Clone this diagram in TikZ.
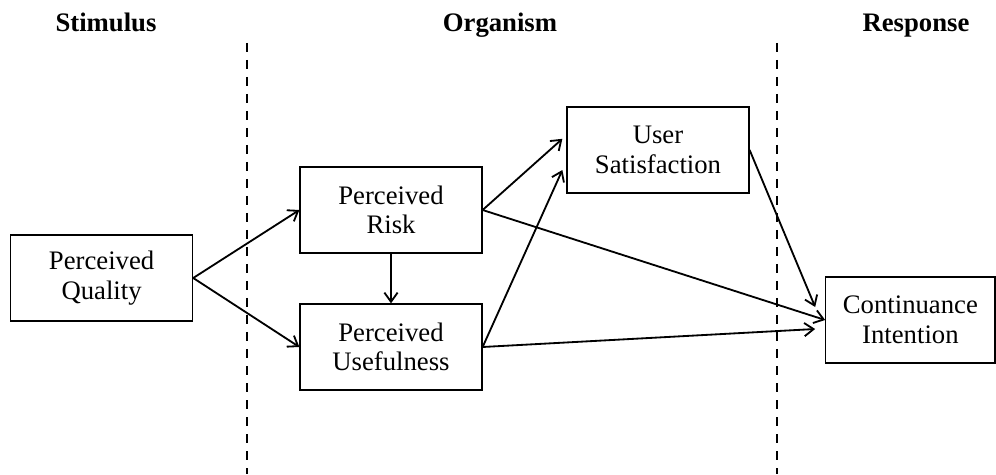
\documentclass[tikz,border=0pt]{standalone}
\usepackage{fontspec}
\setmainfont{Liberation Serif}
\usepackage{tikz}
\usetikzlibrary{arrows.meta, positioning}

\begin{document}
\begin{tikzpicture}[
    factor/.style={draw, line width=0.9pt, minimum width=4.55cm, minimum height=2.15cm, align=center, font=\fontsize{19}{21}\selectfont},
    heading/.style={anchor=base, font=\fontsize{19}{21}\selectfont\bfseries},
    link/.style={line width=1.3pt, -{Straight Barb[length=2.3mm, width=3.3mm, line width=1.3pt]}},
    divider/.style={line width=1.2pt, dash pattern=on 6.4pt off 5.7pt},
]
    \useasboundingbox (0, 0) rectangle (24.9, 11.85);

    % Headings
    \node[heading] (stim) at (2.65, 11.075) {Stimulus};
    \node[heading] (org) at (12.5, 11.075) {Organism};
    \node[heading] (resp) at (22.9, 11.075) {Response};

    % Dividers
    \draw[divider] (6.175, 10.78) -- (6.175, 0);
    \draw[divider] (19.425, 10.78) -- (19.425, 0);

    % Constructs
    \node[factor] (pq) at (2.54, 4.9) {Perceived\\Quality};
    \node[factor] (pr) at (9.775, 6.6) {Perceived\\Risk};
    \node[factor] (pu) at (9.775, 3.175) {Perceived\\Usefulness};
    \node[factor] (us) at (16.45, 8.1) {User\\Satisfaction};
    \node[factor, minimum width=4.23cm] (ci) at (22.76, 3.85) {Continuance\\Intention};

    % Paths
    \draw[link] (pq.east) -- (pr.west);
    \draw[link] (pq.east) -- (pu.west);
    \draw[link] (pr.south) -- (pu.north);
    \draw[link] (pr.east) -- ([xshift=-0.1cm, yshift=0.28cm]us.west);
    \draw[link] (pu.east) -- ([xshift=-0.1cm, yshift=-0.5cm]us.west);
    \draw[link] (pr.east) -- (ci.west);
    \draw[link] (pu.east) -- ([xshift=-0.25cm, yshift=-0.225cm]ci.west);
    \draw[link] (us.east) -- ([xshift=-0.25cm, yshift=0.325cm]ci.west);

\end{tikzpicture}
\end{document}
